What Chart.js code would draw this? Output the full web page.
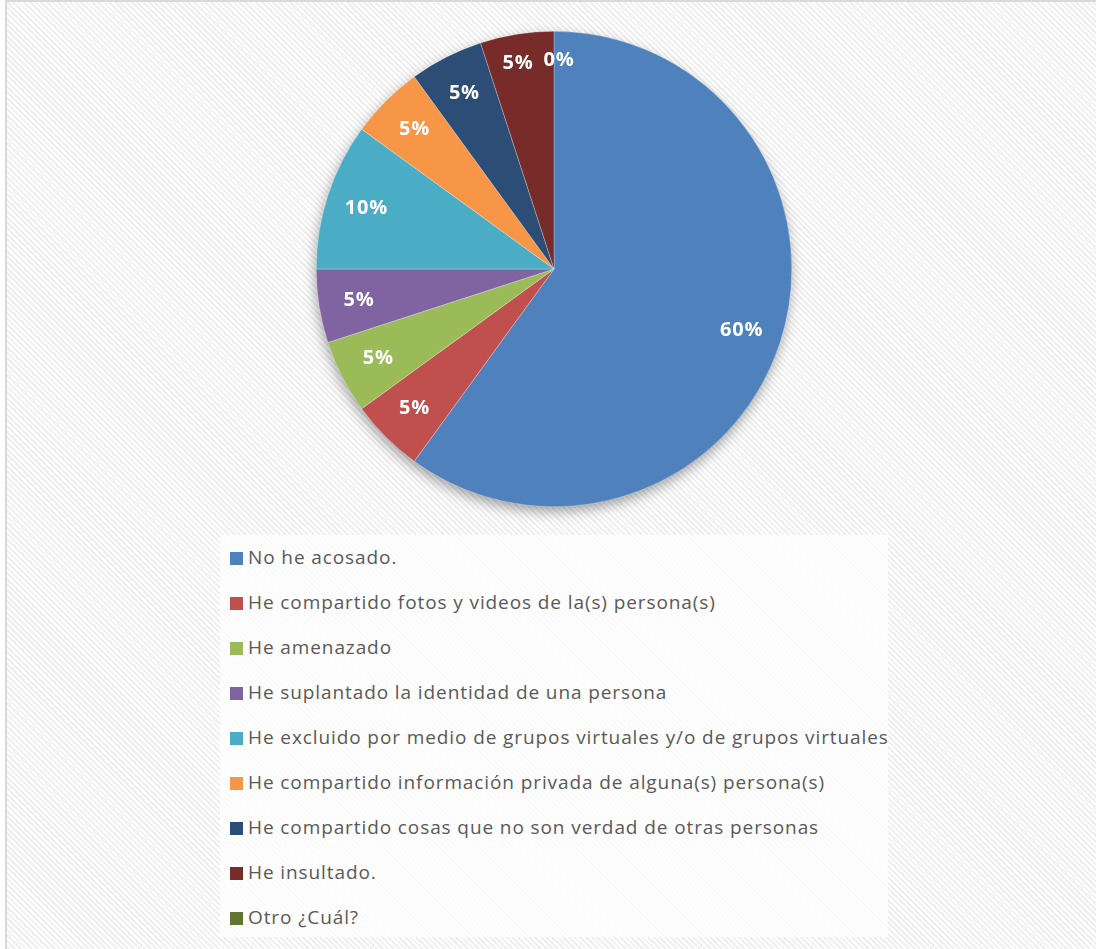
<!DOCTYPE html>
<html>
<head>
<meta charset="utf-8">
<script src="https://cdn.jsdelivr.net/npm/chart.js@4.4.1/dist/chart.umd.min.js"></script>
<style>
  html, body { margin: 0; padding: 0; }
  body {
    width: 1096px; height: 949px; position: relative; overflow: hidden;
    background: #fff;
  }
  #frame {
    position: absolute; left: 5px; top: 0; width: 1100px; height: 960px;
    border-left: 2px solid #d9d9d9; border-top: 2px solid #d9d9d9;
    background: repeating-linear-gradient(45deg, #ffffff 0 2px, #efefef 2px 4px);
  }
  #pieBox { position: absolute; left: 296px; top: 11px; width: 516px; height: 516px; }
  #legend {
    position: absolute; left: 220px; top: 535px; width: 668px; height: 402px;
    background: rgba(255,255,255,0.75);
    font-family: "Open Sans", sans-serif; font-size: 19px; letter-spacing: 0.9px; color: #595959;
  }
  .item { position: absolute; left: 10px; height: 26px; line-height: 26px; white-space: nowrap; }
  .item span.sw { display: inline-block; width: 13px; height: 13px; margin-right: 5px; vertical-align: -1px; }
</style>
</head>
<body>
<div id="frame"></div>
<div id="pieBox"><canvas id="pie"></canvas></div>
<div id="legend"></div>
<script>
const categories = [
  'No he acosado.',
  'He compartido fotos y videos de la(s) persona(s)',
  'He amenazado',
  'He suplantado la identidad de una persona',
  'He excluido por medio de grupos virtuales y/o de grupos virtuales',
  'He compartido información privada de alguna(s) persona(s)',
  'He compartido cosas que no son verdad de otras personas',
  'He insultado.',
  'Otro ¿Cuál?'
];
const percentages = [60, 5, 5, 5, 10, 5, 5, 5, 0];
const sliceColors = ['#4F81BD', '#C0504D', '#9BBB59', '#8064A2', '#4BACC6', '#F79646', '#2C4D75', '#772C2A', '#5F7530'];

// legend, one row per category
const legend = document.getElementById('legend');
categories.forEach((c, i) => {
  const d = document.createElement('div');
  d.className = 'item';
  d.style.top = (9 + i * 45) + 'px';
  d.innerHTML = '<span class="sw" style="background:' + sliceColors[i] + '"></span>' + c;
  legend.appendChild(d);
});

// soft shadow under the whole pie
const pieShadow = {
  id: 'pieShadow',
  beforeDatasetsDraw(chart) {
    const arc = chart.getDatasetMeta(0).data[0];
    if (!arc) return;
    const ctx = chart.ctx;
    ctx.save();
    ctx.shadowColor = 'rgba(0,0,0,0.4)';
    ctx.shadowBlur = 14;
    ctx.shadowOffsetX = -1;
    ctx.shadowOffsetY = 5;
    ctx.fillStyle = '#ffffff';
    ctx.beginPath();
    ctx.arc(arc.x, arc.y, arc.outerRadius - 1, 0, Math.PI * 2);
    ctx.fill();
    ctx.restore();
  }
};

// percent labels inside slices
const sliceLabels = {
  id: 'sliceLabels',
  afterDatasetsDraw(chart) {
    const ctx = chart.ctx;
    const meta = chart.getDatasetMeta(0);
    ctx.save();
    ctx.fillStyle = '#ffffff';
    ctx.font = 'bold 20px "Open Sans", sans-serif';
    ctx.letterSpacing = '0.8px';
    ctx.textAlign = 'center';
    ctx.textBaseline = 'middle';
    meta.data.forEach((arc, i) => {
      const mid = (arc.startAngle + arc.endAngle) / 2;
      const r = arc.outerRadius * 0.83;
      let x = arc.x + Math.cos(mid) * r;
      let y = arc.y + Math.sin(mid) * r;
      if (i >= 7) { y -= 11; x += (i === 7 ? -5 : 5); }
      ctx.fillText(percentages[i] + '%', x, y);
    });
    ctx.restore();
  }
};

new Chart(document.getElementById('pie'), {
  type: 'pie',
  data: {
    labels: categories,
    datasets: [{
      data: percentages,
      backgroundColor: sliceColors,
      borderWidth: 0.5,
      borderColor: 'rgba(255,255,255,0.5)'
    }]
  },
  options: {
    responsive: true,
    maintainAspectRatio: false,
    animation: false,
    layout: { padding: 20 },
    plugins: {
      legend: { display: false },
      tooltip: { enabled: false }
    }
  },
  plugins: [pieShadow, sliceLabels]
});
</script>
</body>
</html>
